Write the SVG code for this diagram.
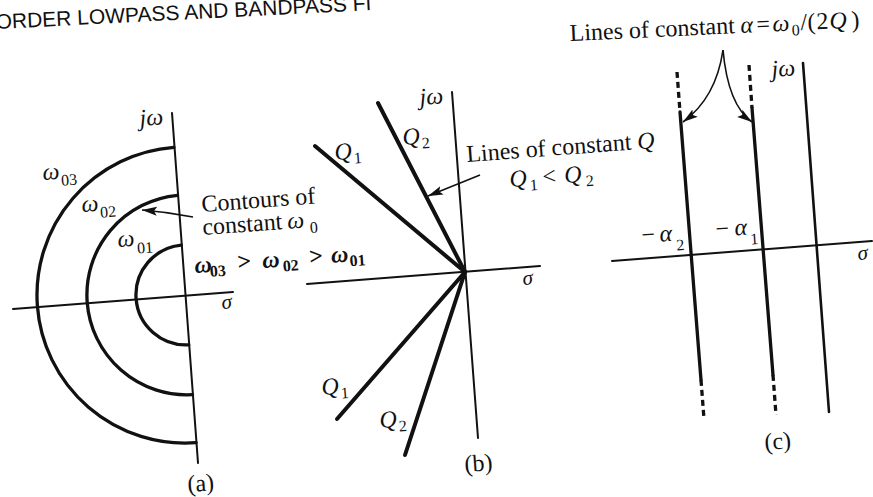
<svg xmlns="http://www.w3.org/2000/svg" width="873" height="497" viewBox="0 0 873 497">
<style>
.ax{stroke:#111;stroke-width:2;fill:none;stroke-linecap:round}
.thk{stroke:#111;stroke-width:3.3;fill:none;stroke-linecap:round}
.ql{stroke:#111;stroke-width:4;fill:none;stroke-linecap:round}
.dash{stroke-dasharray:6 4;stroke-linecap:butt}
.arr{stroke:#111;stroke-width:1.6;fill:none;marker-end:url(#ah)}
.t{font-family:"Liberation Serif",serif;font-size:24px;fill:#111}
.i{font-style:italic}
.n{font-style:normal}
.sub{font-size:16px}
.b{font-weight:bold}
.sm{font-size:21px}
.title{font-family:"Liberation Sans",sans-serif;font-size:21px;fill:#111}
</style>
<defs>
<marker id="ah" markerWidth="16" markerHeight="10" refX="15" refY="5" orient="auto" markerUnits="userSpaceOnUse">
<path d="M0,0.5 L15,5 L0,9.5 L3,5 Z" fill="#111"/>
</marker>
</defs>
<rect width="873" height="497" fill="#fff"/>
<text class="title" transform="translate(-4,29) rotate(-2.9)">ORDER LOWPASS AND BANDPASS FI</text>

<g id="panel-a">
<line class="ax" x1="172" y1="113" x2="198" y2="463"/>
<line class="ax" x1="13" y1="309" x2="233" y2="292"/>
<path class="thk" d="M181.25,245.15 A50,50 0 0 0 188.75,344.85"/>
<path class="thk" d="M177.5,195.3 A100,100 0 0 0 192.5,394.7"/>
<path class="thk" d="M173.9,147.4 A148,148 0 0 0 196.1,442.6"/>
<text class="t i" transform="translate(140,126) rotate(-4.3)">jω</text>
<text class="t i" transform="translate(43,180) rotate(-4.3)">ω<tspan class="sub n" x="18" dy="7">03</tspan></text>
<text class="t i" transform="translate(82,212) rotate(-4.3)">ω<tspan class="sub n" x="18" dy="7">02</tspan></text>
<text class="t i" transform="translate(118,247) rotate(-4.3)">ω<tspan class="sub n" x="19" dy="8">01</tspan></text>
<text class="t" transform="translate(202,212) rotate(-4.3)">Contours of</text>
<text class="t" transform="translate(203,235) rotate(-4.3)">constant<tspan class="i" x="85">ω</tspan><tspan class="sub" x="107" dy="6">0</tspan></text>
<text class="t b i" transform="translate(195,273) rotate(-4.3)">ω<tspan class="sub n" x="15" dy="5">03</tspan><tspan class="n" x="43" dy="-5">&gt;</tspan><tspan x="68">ω</tspan><tspan class="sub n" x="88" dy="5">02</tspan><tspan class="n" x="115" dy="-5">&gt;</tspan><tspan x="137">ω</tspan><tspan class="sub n" x="155" dy="5">01</tspan></text>
<text class="t i sm" transform="translate(222,309) rotate(-4.3)">σ</text>
<text class="t" transform="translate(188,492) rotate(-4.3)">(a)</text>
</g>

<g id="panel-b">
<line class="ax" x1="452" y1="92" x2="478" y2="438"/>
<line class="ax" x1="307" y1="284" x2="540" y2="266"/>
<line class="ql" x1="315" y1="146" x2="465" y2="272"/>
<line class="ql" x1="378" y1="103" x2="465" y2="272"/>
<line class="ql" x1="337" y1="419" x2="465" y2="272"/>
<line class="ql" x1="405" y1="455" x2="465" y2="272"/>
<text class="t i" transform="translate(420,105) rotate(-4.3)">jω</text>
<text class="t i" transform="translate(403,145) rotate(-4.3)">Q<tspan class="sub n" x="19" dy="5">2</tspan></text>
<text class="t i" transform="translate(335,160) rotate(-4.3)">Q<tspan class="sub n" x="19" dy="5">1</tspan></text>
<text class="t" transform="translate(467,162) rotate(-4.3)">Lines of constant <tspan class="i">Q</tspan></text>
<text class="t i" transform="translate(510,187) rotate(-4.3)">Q<tspan class="sub n" x="20" dy="5">1</tspan><tspan class="n" x="33" dy="-5">&lt;</tspan><tspan x="55">Q</tspan><tspan class="sub n" x="76" dy="5">2</tspan></text>
<text class="t i sm" transform="translate(523,285) rotate(-4.3)">σ</text>
<text class="t i" transform="translate(322,395) rotate(-4.3)">Q<tspan class="sub n" x="19" dy="5">1</tspan></text>
<text class="t i" transform="translate(380,428) rotate(-4.3)">Q<tspan class="sub n" x="19" dy="5">2</tspan></text>
<text class="t" transform="translate(465,472) rotate(-4.3)">(b)</text>
</g>

<g id="panel-c">
<line class="ax" x1="612" y1="261" x2="872" y2="241"/>
<line class="ax" style="stroke-width:2.6" x1="803" y1="63" x2="829" y2="412"/>
<line class="thk dash" x1="677" y1="72" x2="680" y2="112"/>
<line class="thk" x1="680" y1="112" x2="701" y2="380"/>
<line class="thk dash" x1="701" y1="380" x2="704" y2="419"/>
<line class="thk dash" x1="749" y1="65" x2="752" y2="108"/>
<line class="thk" x1="752" y1="108" x2="773" y2="375"/>
<line class="thk dash" x1="773" y1="375" x2="776" y2="415"/>
<text class="t" transform="translate(570,41) rotate(-2.7)">Lines of constant<tspan class="i" x="171">α</tspan><tspan x="187">=</tspan><tspan class="i" x="203">ω</tspan><tspan class="sub" x="222" dy="5">0</tspan><tspan x="231" dy="-5">/</tspan><tspan x="238">(</tspan><tspan x="247">2</tspan><tspan class="i" x="260">Q</tspan><tspan x="282">)</tspan></text>
<text class="t i" transform="translate(772,77) rotate(-4.3)">jω</text>
<text class="t" transform="translate(642,243) rotate(-4.3)">−<tspan class="i" x="18">α</tspan><tspan class="sub" x="34" dy="10">2</tspan></text>
<text class="t" transform="translate(716,237) rotate(-4.3)">−<tspan class="i" x="19">α</tspan><tspan class="sub" x="34" dy="10">1</tspan></text>
<text class="t i sm" transform="translate(858,260) rotate(-4.3)">σ</text>
<text class="t" transform="translate(765,450) rotate(-4.3)">(c)</text>
</g>

<g id="connectors">
<path class="arr" d="M193,217 Q168,212 142,210"/>
<path class="arr" d="M480,175 L428,196"/>
<path class="arr" d="M723,50 Q716,98 683,122"/>
<path class="arr" d="M723,50 Q728,105 752,122"/>
</g>
</svg>
